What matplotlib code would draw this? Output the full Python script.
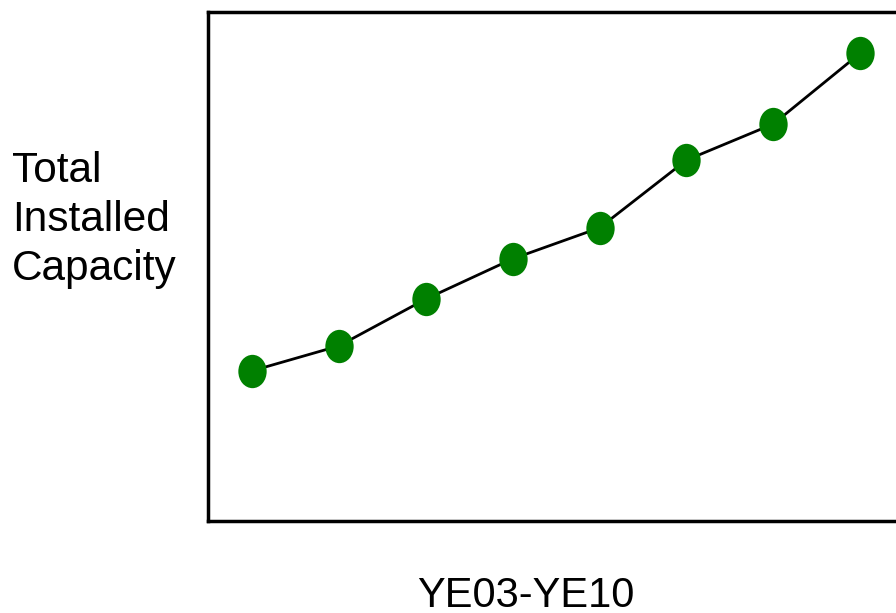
import matplotlib
matplotlib.use("Agg")
import matplotlib.pyplot as plt
from matplotlib.markers import MarkerStyle
from matplotlib.transforms import Affine2D

years = ["YE03", "YE04", "YE05", "YE06", "YE07", "YE08", "YE09", "YE10"]
capacity = [29.5, 34.4, 43.6, 51.5, 57.6, 70.9, 78.0, 91.9]

plt.rcParams['font.family'] = ['Liberation Sans', 'DejaVu Sans']

fig = plt.figure(figsize=(8.96, 6.13), dpi=100)
ax = fig.add_axes([208/896, 92/613, 700/896, 509/613])

x = list(range(len(years)))
dot = MarkerStyle('o', transform=Affine2D().scale(0.85, 1.0))
ax.plot(x, capacity, color="black", linewidth=2, zorder=1)
ax.plot(x, capacity, linestyle="none", marker=dot, markersize=24,
        color="#008000", markeredgewidth=0, zorder=2)

ax.set_xlim(-0.506, 7.55)
ax.set_ylim(0, 100)
ax.set_xticks([])
ax.set_yticks([])
for side in ax.spines.values():
    side.set_linewidth(2.5)

fig.text(12/896, 1 - 220/613, "Total\nInstalled\nCapacity", fontsize=30.5,
         ha="left", va="center", linespacing=1.28)
fig.text(526/896, 6/613, "YE03-YE10", fontsize=30, ha="center", va="baseline")

fig.savefig("out.png", dpi=100)
